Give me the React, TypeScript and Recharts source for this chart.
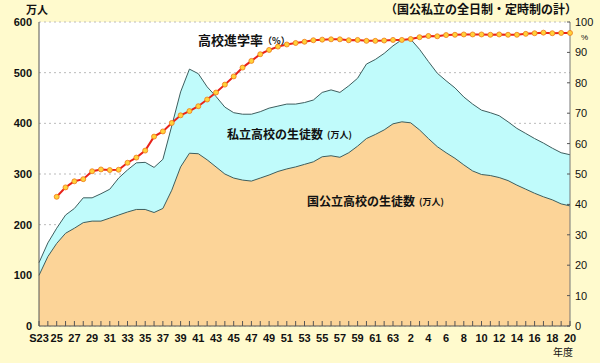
import { ComposedChart, Area, Line, XAxis, YAxis, CartesianGrid } from 'recharts'

// fiscal years S23 (1948) .. H20 (2008)
const years = [
  'S23', 'S24', 'S25', 'S26', 'S27', 'S28', 'S29', 'S30', 'S31', 'S32',
  'S33', 'S34', 'S35', 'S36', 'S37', 'S38', 'S39', 'S40', 'S41', 'S42',
  'S43', 'S44', 'S45', 'S46', 'S47', 'S48', 'S49', 'S50', 'S51', 'S52',
  'S53', 'S54', 'S55', 'S56', 'S57', 'S58', 'S59', 'S60', 'S61', 'S62',
  'S63', 'H1', 'H2', 'H3', 'H4', 'H5', 'H6', 'H7', 'H8', 'H9',
  'H10', 'H11', 'H12', 'H13', 'H14', 'H15', 'H16', 'H17', 'H18', 'H19',
  'H20',
]

// 万人
const totalStudents = [
  125, 164, 193, 219, 232, 253, 253, 261, 270, 292,
  308, 322, 323, 313, 329, 395, 462, 507, 498, 472,
  453, 432, 421, 418, 418, 423, 430, 434, 438, 438,
  441, 446, 461, 466, 461, 474, 489, 517, 526, 538,
  553, 565, 566, 546, 522, 499, 484, 470, 452, 438,
  426, 421, 415, 403, 390, 380, 370, 361, 351, 342,
  338,
]

const publicStudents = [
  100, 137, 163, 183, 193, 204, 207, 207, 213, 219,
  225, 230, 230, 224, 232, 268, 314, 341, 340, 328,
  314, 300, 292, 288, 286, 292, 298, 305, 310, 314,
  319, 324, 334, 336, 333, 342, 355, 370, 378, 387,
  399, 403, 401, 387, 370, 354, 342, 331, 318, 306,
  299, 297, 293, 287, 278, 270, 262, 255, 249, 241,
  237,
]

// %
const advanceRate = [
  null, null, 42.5, 45.6, 47.6, 48.3, 50.9, 51.5, 51.3, 51.4,
  53.7, 55.4, 57.7, 62.3, 64.0, 66.8, 69.3, 70.7, 72.3, 74.5,
  76.8, 79.4, 82.1, 85.0, 87.2, 89.4, 90.8, 91.9, 92.6, 93.1,
  93.5, 94.0, 94.2, 94.3, 94.3, 94.0, 94.1, 93.8, 93.8, 93.9,
  94.1, 94.1, 94.4, 95.0, 95.4, 95.3, 95.7, 95.8, 95.9, 95.9,
  95.9, 95.8, 95.9, 95.8, 95.8, 96.1, 96.3, 96.5, 96.3, 96.4,
  96.4,
]

const leftTicks = [0, 100, 200, 300, 400, 500, 600]
const rightTicks = [0, 10, 20, 30, 40, 50, 60, 70, 80, 90, 100]

const data = years.map((y, i) => ({
  year: y,
  total: totalStudents[i],
  pub: publicStudents[i],
  rate: advanceRate[i],
}))

const NUM_FONT = '"Liberation Sans", Arial, sans-serif'
const JP_FONT = '"Noto Sans CJK JP", "Noto Sans", sans-serif'

function XTick(props: any) {
  const { x, y, payload } = props
  const idx = years.indexOf(payload.value)
  const label = idx === 0 ? 'S23' : String(payload.value).slice(1)
  return (
    <g>
      <line x1={x} x2={x} y1={y - 5} y2={y} stroke="#555" />
      {idx % 2 === 0 && (
        <text x={x} y={y + 16} textAnchor="middle" fontSize={11} fontWeight="bold" fontFamily={NUM_FONT} fill="#111">
          {label}
        </text>
      )}
    </g>
  )
}

function LeftTick(props: any) {
  const { x, y, payload } = props
  return (
    <text x={x - 7} y={y + 4} textAnchor="end" fontSize={11} fontWeight="bold" fontFamily={NUM_FONT} fill="#111">
      {payload.value}
    </text>
  )
}

function RightTick(props: any) {
  const { x, y, payload } = props
  return (
    <g>
      <line x1={x - 3} x2={x} y1={y} y2={y} stroke="#555" />
      <text x={x + 5} y={y + 4} textAnchor="start" fontSize={11} fontFamily={NUM_FONT} fill="#111">
        {payload.value}
      </text>
    </g>
  )
}

const label = (text: string, left: number, top: number, size: number, bold = true) => (
  <div
    style={{
      position: 'absolute', left, top, fontSize: size, lineHeight: 1,
      fontWeight: bold ? 'bold' : 'normal', fontFamily: JP_FONT, color: '#111', whiteSpace: 'nowrap',
    }}
  >
    {text}
  </div>
)

export default function App() {
  return (
    <div style={{ position: 'fixed', left: 0, top: 0, width: 600, height: 363, background: '#FFFACD', overflow: 'hidden' }}>
      <ComposedChart width={600} height={363} data={data} margin={{ top: 22, right: 0, left: 0, bottom: 0 }}>
        <CartesianGrid
          yAxisId="left"
          vertical={false}
          stroke="#bbb"
          strokeDasharray="2 3"
          fill="#fff"
          fillOpacity={1}
        />
        <XAxis
          dataKey="year"
          interval={0}
          height={37}
          tickSize={0}
          tickMargin={0}
          tick={<XTick />}
          axisLine={{ stroke: '#555' }}
          tickLine={false}
        />
        <YAxis
          yAxisId="left"
          domain={[0, 600]}
          ticks={leftTicks}
          width={39}
          tickSize={0}
          tickMargin={0}
          tick={<LeftTick />}
          axisLine={{ stroke: '#555' }}
          tickLine={false}
        />
        <YAxis
          yAxisId="right"
          orientation="right"
          domain={[0, 100]}
          ticks={rightTicks}
          width={30}
          tickSize={0}
          tickMargin={0}
          tick={<RightTick />}
          axisLine={{ stroke: '#777' }}
          tickLine={false}
        />
        <Area
          yAxisId="left"
          dataKey="total"
          type="linear"
          fill="#C0FBFB"
          fillOpacity={1}
          stroke="#3E5E5E"
          strokeWidth={1}
          isAnimationActive={false}
        />
        <Area
          yAxisId="left"
          dataKey="pub"
          type="linear"
          fill="#FCD498"
          fillOpacity={1}
          stroke="#3E5E5E"
          strokeWidth={1}
          isAnimationActive={false}
        />
        <Line
          yAxisId="right"
          dataKey="rate"
          type="linear"
          stroke="#E8231A"
          strokeWidth={2}
          dot={{ r: 2.5, fill: '#FFD23A', stroke: '#F07818', strokeWidth: 0.8 }}
          isAnimationActive={false}
        />
      </ComposedChart>

      {label('万人', 26, 4, 11)}
      {label('（国公私立の全日制・定時制の計）', 385, 3, 12)}
      <div style={{ position: 'absolute', left: 581, top: 33, fontSize: 8, fontFamily: NUM_FONT, color: '#111' }}>%</div>
      {label('年度', 553, 347, 10, false)}

      {label('高校進学率', 198, 33, 13)}
      {label('（%）', 263, 36, 9)}
      {label('私立高校の生徒数', 227, 128, 12)}
      {label('(万人)', 327, 130, 9)}
      {label('国公立高校の生徒数', 307, 195, 12)}
      {label('(万人)', 419, 197, 9)}
    </div>
  )
}
